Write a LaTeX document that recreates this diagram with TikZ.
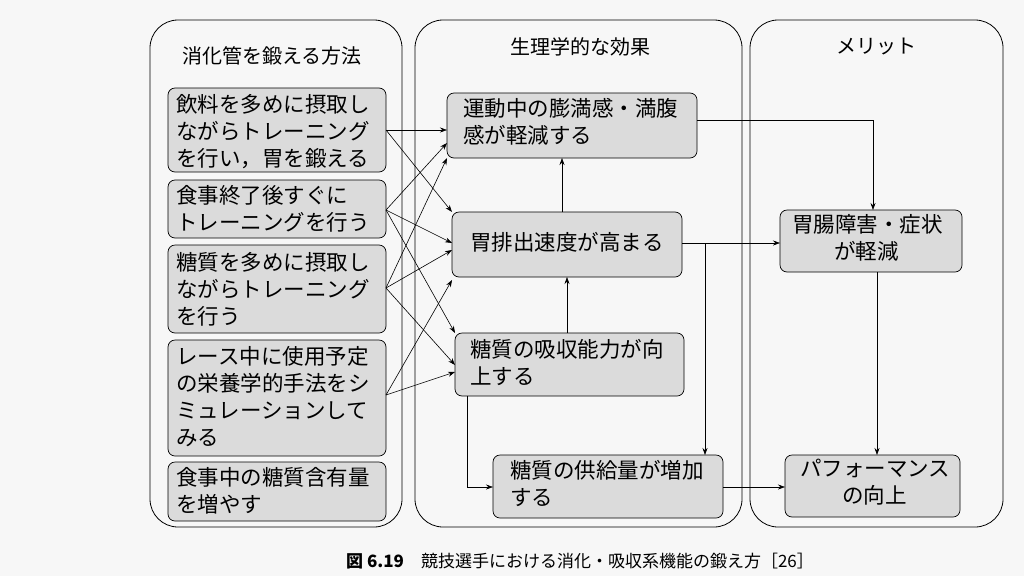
\documentclass[tikz,border=0pt]{standalone}
\usepackage{fontspec}
\setmainfont{Noto Sans CJK JP}
\usetikzlibrary{arrows.meta}
\begin{document}
\begin{tikzpicture}[x=1pt,y=-1pt,
  panel/.style={draw,line width=0.8pt,rounded corners=28pt},
  box/.style={draw,line width=0.7pt,rounded corners=7pt,fill=gray!28,inner sep=0pt},
  bt/.style={font=\fontsize{21.5}{27}\selectfont,align=left,anchor=north west,inner sep=0pt},
  ttl/.style={font=\fontsize{20}{24}\selectfont,inner sep=0pt},
  arr/.style={-{Stealth[length=7pt,width=5pt]},line width=0.6pt}]
\useasboundingbox (0,0) rectangle (1024,576);
\fill[gray!6] (0,0) rectangle (1024,576);
% panels
\draw[panel] (150,20) rectangle (402,527);
\draw[panel] (415,20) rectangle (742,527);
\draw[panel] (750,20) rectangle (1003,527);
\node[ttl] (t1) at (272,56) {消化管を鍛える方法};
\node[ttl] (t2) at (580,47) {生理学的な効果};
\node[ttl] (t3) at (876,47) {メリット};
% left boxes
\draw[box] (168,88) rectangle (386,172); \node[bt] (L1) at (176,94) {飲料を多めに摂取し\\ながらトレーニング\\を行い，胃を鍛える};
\draw[box] (168,180) rectangle (386,238); \node[bt] (L2) at (176,185) {食事終了後すぐに\\トレーニングを行う};
\draw[box] (168,245) rectangle (386,333); \node[bt] (L3) at (176,252) {糖質を多めに摂取し\\ながらトレーニング\\を行う};
\draw[box] (168,340) rectangle (386,456); \node[bt] (L4) at (176,346) {レース中に使用予定\\の栄養学的手法をシ\\ミュレーションして\\みる};
\draw[box] (168,462) rectangle (386,521); \node[bt] (L5) at (176,467) {食事中の糖質含有量\\を増やす};
% middle boxes
\draw[box] (447,93) rectangle (697,158); \node[bt] (M1t) at (463,98) {運動中の膨満感・満腹\\感が軽減する};
\draw[box] (452,212) rectangle (682,277); \node[bt] (M2t) at (470,232) {胃排出速度が高まる};
\draw[box] (455,333) rectangle (684,396); \node[bt] (M3t) at (470,339) {糖質の吸収能力が向\\上する};
\draw[box] (493,455) rectangle (723,518); \node[bt] (M4t) at (510,460) {糖質の供給量が増加\\する};
% right boxes
\draw[box] (780,210) rectangle (962,272); \node[bt] (R1t) at (792,214) {胃腸障害・症状\\\hspace*{42pt}が軽減};
\draw[box] (785,455) rectangle (960,517); \node[bt] (R2t) at (800,459) {パフォーマンス\\\hspace*{42pt}の向上};
% coordinates
\coordinate (l1) at (386,130); \coordinate (l2) at (386,210);
\coordinate (l3) at (386,288); \coordinate (l4) at (386,395);
\coordinate (m1a) at (447,130); \coordinate (m1b) at (447,143); \coordinate (m1c) at (447,158);
\coordinate (m2a) at (452,212); \coordinate (m2b) at (452,243); \coordinate (m2c) at (452,250); \coordinate (m2d) at (452,280);
\coordinate (m3a) at (455,333); \coordinate (m3b) at (455,365); \coordinate (m3c) at (455,372);
\draw[arr] (l1) -- (m1a); \draw[arr] (l1) -- (m2a);
\draw[arr] (l2) -- (m1b); \draw[arr] (l2) -- (m2b); \draw[arr] (l2) -- (m3a);
\draw[arr] (l3) -- (m1c); \draw[arr] (l3) -- (m2c); \draw[arr] (l3) -- (m3b);
\draw[arr] (l4) -- (m2d); \draw[arr] (l4) -- (m3c);
% middle internal
\draw[arr] (562,212) -- (562,158);
\draw[arr] (567,333) -- (567,277);
\draw[arr] (697,120) -- (873,120) -- (873,210);
\draw[arr] (682,243) -- (780,243);
\draw[arr] (705,243) -- (705,455);
\draw[arr] (467,396) -- (467,487) -- (493,487);
\draw[arr] (723,487) -- (785,487);
\draw[arr] (877,272) -- (877,455);
% caption
\node[font=\fontsize{17}{20}\selectfont,inner sep=0pt] (cap) at (580,561) {\textbf{図 6.19}\quad 競技選手における消化・吸収系機能の鍛え方［26］};
\end{tikzpicture}
\end{document}
